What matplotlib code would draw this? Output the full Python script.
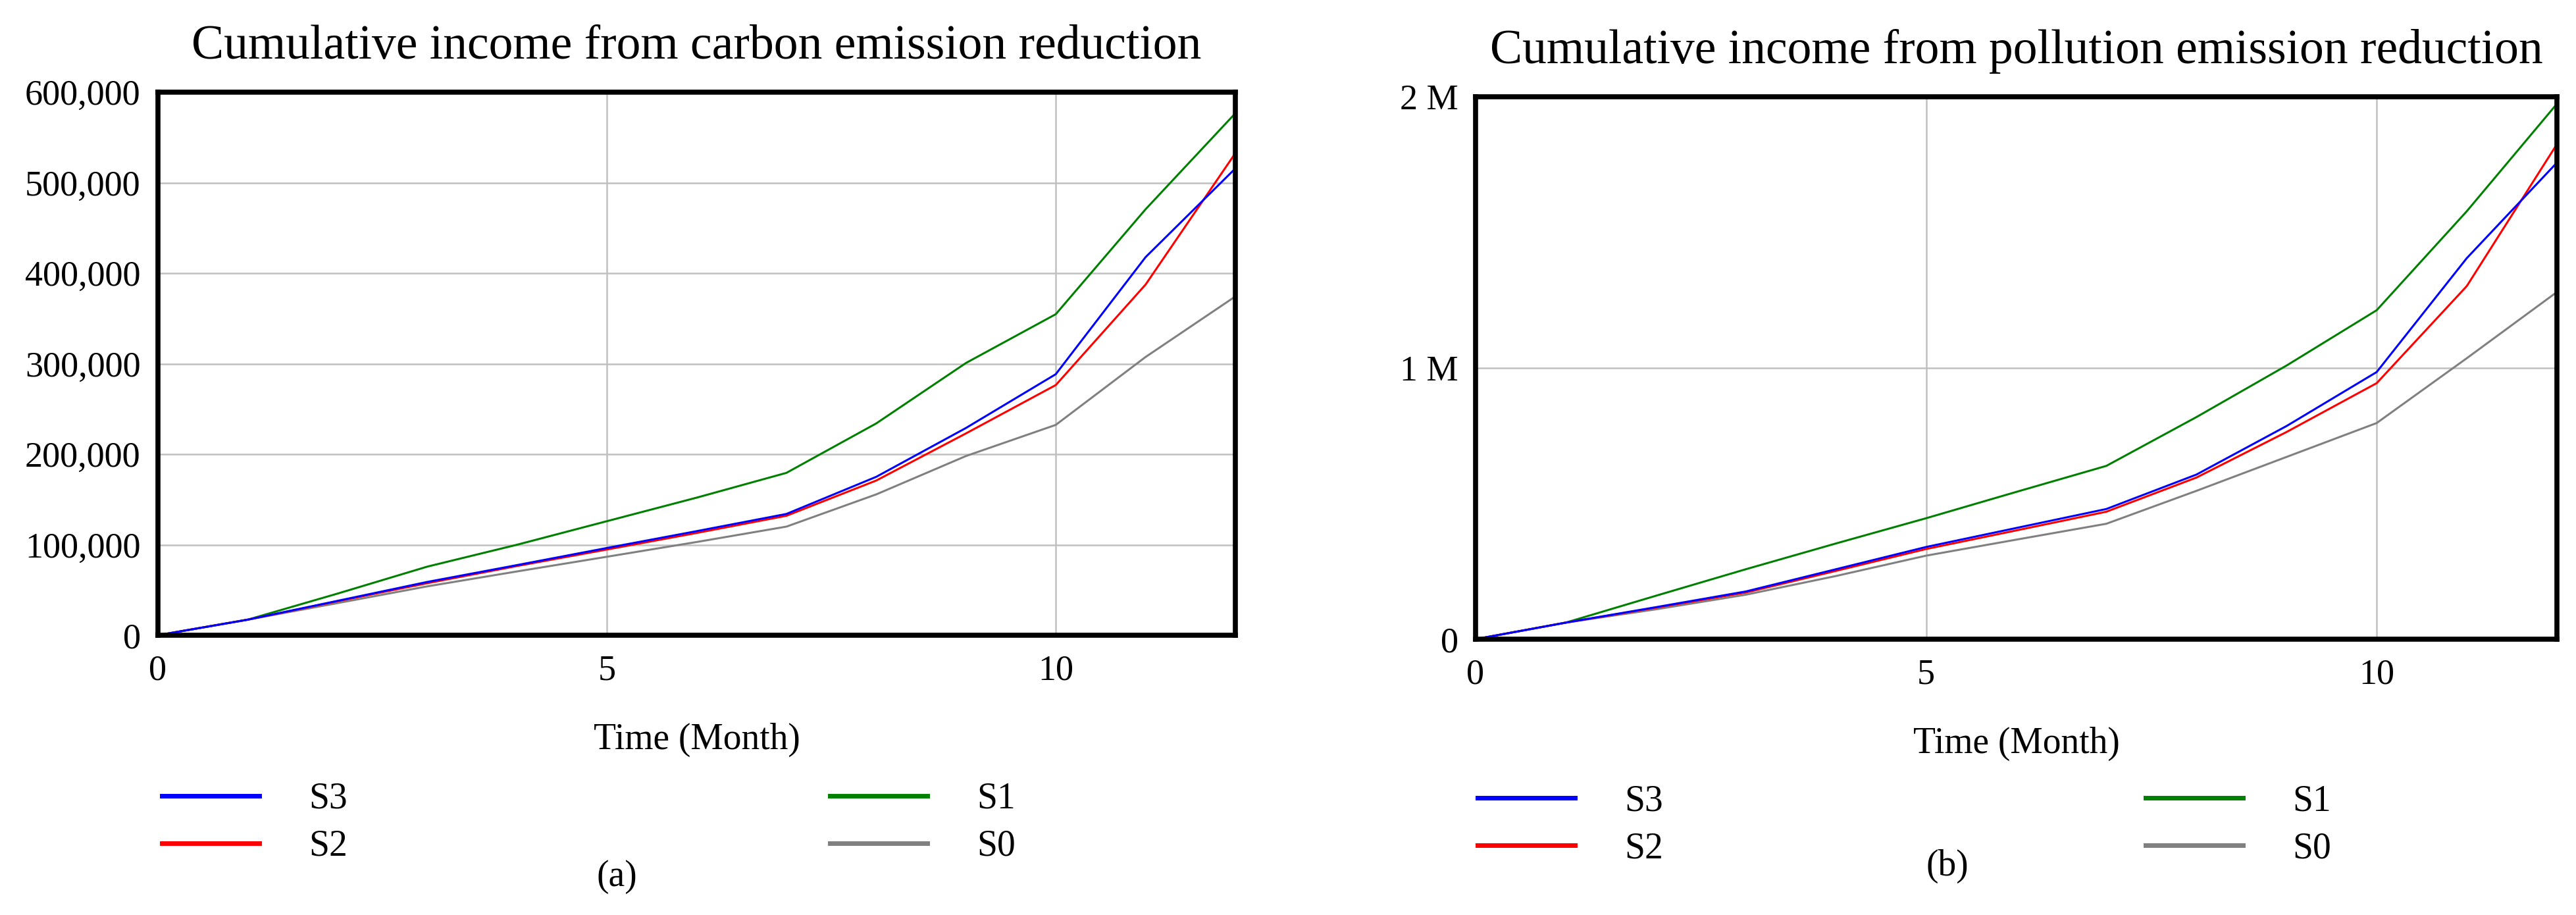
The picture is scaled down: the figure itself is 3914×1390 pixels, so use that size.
import matplotlib
matplotlib.use("Agg")
import matplotlib.pyplot as plt
from matplotlib.lines import Line2D
from matplotlib.ticker import FuncFormatter

plt.rcParams['font.family'] = ['Liberation Serif', 'DejaVu Serif']

months = [0, 1, 2, 3, 4, 5, 6, 7, 8, 9, 10, 11, 12]
scenarios = ['S3', 'S2', 'S1', 'S0']
colors = {'S3': '#0000ff', 'S2': '#ff0000', 'S1': '#008000', 'S0': '#808080'}

# (a) carbon emission reduction income
carbon = {
    'S1': [0, 17200, 46000, 75800, 100000, 126000, 152000, 179400, 234000, 300800, 354700, 470600, 576700],
    'S3': [0, 17200, 38000, 58900, 77500, 96400, 115000, 134000, 175000, 229000, 288400, 417700, 515700],
    'S2': [0, 17200, 37500, 57500, 76500, 94700, 113000, 132000, 170900, 223000, 276400, 387400, 532600],
    'S0': [0, 17200, 35500, 54000, 70500, 86700, 103000, 120000, 155600, 198000, 232400, 307400, 374300],
}

# (b) pollution emission reduction income
pollution = {
    'S1': [0, 61000, 160000, 258000, 353000, 446000, 543000, 639000, 819000, 1009000, 1213000, 1578000, 1974000],
    'S3': [0, 61000, 118000, 176000, 258000, 340000, 410000, 480000, 607000, 786000, 985000, 1405000, 1757000],
    'S2': [0, 61000, 116000, 172000, 252000, 332500, 401000, 470000, 596000, 764000, 944000, 1302000, 1825000],
    'S0': [0, 61000, 110000, 164000, 233000, 308000, 367000, 425600, 547000, 672000, 797000, 1036000, 1280000],
}

titles = ['Cumulative income from carbon emission reduction',
          'Cumulative income from pollution emission reduction']
panel_tags = ['(a)', '(b)']
x_ticks = [0, 5, 10]
carbon_ticks = [0, 100000, 200000, 300000, 400000, 500000, 600000]
pollution_ticks = [0, 1000000, 2000000]
pollution_tick_labels = ['0', '1 M', '2 M']

W, H = 3914, 1390
fig = plt.figure(figsize=(W / 100, H / 100), dpi=100)

ax1 = fig.add_axes([240 / W, 1 - 965 / H, 1637 / W, 825 / H])
ax2 = fig.add_axes([2242 / W, 1 - 971 / H, 1643 / W, 824 / H])


def style(ax, title):
    ax.set_xlim(0, 12)
    ax.set_xticks(x_ticks)
    ax.grid(True, color='#c0c0c0', lw=1.8)
    ax.set_axisbelow(True)
    for s in ax.spines.values():
        s.set_linewidth(5.5)
        s.set_zorder(5)
    ax.tick_params(length=0, labelsize=39)
    ax.tick_params(axis='x', pad=21)
    ax.tick_params(axis='y', pad=19)
    ax.set_title(title, fontsize=53, pad=37)
    ax.set_xlabel('Time (Month)', fontsize=40, labelpad=38)


for ax, data in [(ax1, carbon), (ax2, pollution)]:
    for s in ['S3', 'S2', 'S1', 'S0'][::-1]:
        ax.plot(months, data[s], color=colors[s], lw=2.2, zorder=3)

style(ax1, titles[0])
ax1.set_ylim(0, 600000)
ax1.set_yticks(carbon_ticks)
ax1.yaxis.set_major_formatter(FuncFormatter(lambda v, p: f'{int(v):,}'))

style(ax2, titles[1])
ax2.set_ylim(0, 2000000)
ax2.set_yticks(pollution_ticks)
ax2.set_yticklabels(pollution_tick_labels)

handles = [Line2D([], [], color=colors[s], lw=5) for s in scenarios]
for x0, y0 in [(246, 1188), (2245, 1191)]:
    fig.legend(handles, scenarios, loc='upper left',
               bbox_to_anchor=(x0 / W, 1 - y0 / H), ncol=2, frameon=False,
               fontsize=40, handlelength=2.66, handletextpad=1.35,
               columnspacing=13.2, labelspacing=0.36, borderpad=0,
               borderaxespad=0)

fig.text(937 / W, 1 - 1332 / H, panel_tags[0], fontsize=40, ha='center', va='center')
fig.text(2959 / W, 1 - 1316 / H, panel_tags[1], fontsize=40, ha='center', va='center')

fig.savefig('out.png', dpi=100)
